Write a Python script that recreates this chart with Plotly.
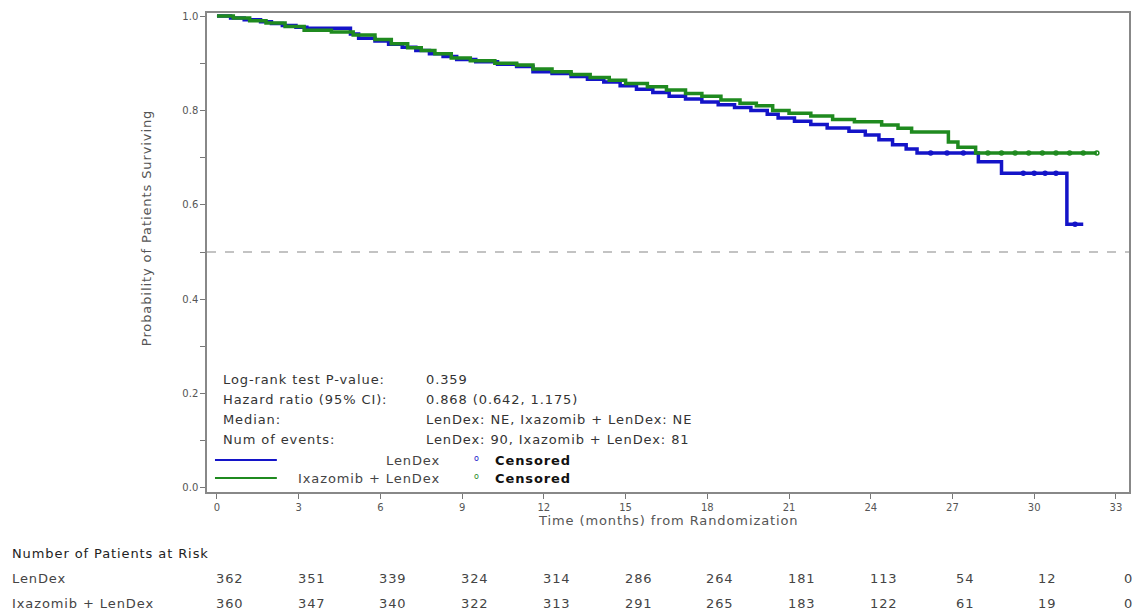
import numpy as np
import plotly.graph_objects as go

# ---------------- data ----------------
lendex_t = [0, 0.5, 1.0, 1.6, 2.0, 2.4, 2.9, 3.3, 4.9, 5.2, 5.8, 6.3, 6.8, 7.3, 7.8, 8.3, 8.8,
            9.5, 10.3, 11.0, 11.6, 12.3, 13.0, 13.6, 14.2, 14.8, 15.4, 16.0, 16.6, 17.2, 17.8,
            18.4, 19.0, 19.6, 20.2, 20.6, 21.2, 21.8, 22.4, 23.2, 23.8, 24.3, 24.8, 25.3, 25.7,
            27.95, 28.8, 31.2, 31.8]
lendex_s = [1.000, 0.996, 0.992, 0.988, 0.984, 0.980, 0.976, 0.974, 0.962, 0.953, 0.947, 0.940,
            0.934, 0.927, 0.920, 0.914, 0.908, 0.903, 0.898, 0.893, 0.882, 0.878, 0.872, 0.866,
            0.860, 0.852, 0.845, 0.838, 0.830, 0.824, 0.818, 0.812, 0.806, 0.800, 0.792, 0.784,
            0.777, 0.770, 0.763, 0.756, 0.748, 0.738, 0.727, 0.718, 0.710, 0.691, 0.667, 0.559,
            0.559]
lendex_cens = [26.2, 26.8, 27.4, 29.6, 30.0, 30.4, 30.8, 31.5]

ixa_t = [0, 0.6, 1.2, 1.8, 2.5, 3.2, 4.2, 5.0, 5.8, 6.4, 7.0, 7.5, 8.0, 8.6, 9.3, 10.2, 11.0,
         11.6, 12.3, 13.0, 13.7, 14.4, 15.0, 15.8, 16.5, 17.2, 17.8, 18.5, 19.2, 19.8, 20.4,
         21.0, 21.8, 22.6, 23.4, 24.4, 25.0, 25.5, 26.85, 27.2, 27.85, 32.3]
ixa_s = [1.000, 0.996, 0.990, 0.985, 0.978, 0.970, 0.966, 0.960, 0.950, 0.941, 0.933, 0.927,
         0.920, 0.911, 0.905, 0.900, 0.896, 0.888, 0.882, 0.876, 0.870, 0.864, 0.857, 0.850,
         0.843, 0.836, 0.830, 0.822, 0.815, 0.810, 0.800, 0.794, 0.788, 0.781, 0.776, 0.769,
         0.762, 0.754, 0.733, 0.722, 0.710, 0.710]
ixa_cens = [28.3, 28.8, 29.3, 29.8, 30.3, 30.8, 31.3, 31.8, 32.3]

risk_times = [0, 3, 6, 9, 12, 15, 18, 21, 24, 27, 30, 33]
risk_lendex = [362, 351, 339, 324, 314, 286, 264, 181, 113, 54, 12, 0]
risk_ixa = [360, 347, 340, 322, 313, 291, 265, 183, 122, 61, 19, 0]

stats_labels = ["Log-rank test P-value:", "Hazard ratio (95% CI):", "Median:", "Num of events:"]
stats_values = ["0.359", "0.868 (0.642, 1.175)", "LenDex: NE, Ixazomib + LenDex: NE",
                "LenDex: 90, Ixazomib + LenDex: 81"]

series_names = ["LenDex", "Ixazomib + LenDex"]
BLUE = "#1414c8"
GREEN = "#1f8a1f"
FONT = "DejaVu Sans"
GRAY = "#555555"
FS = 13


def sp(s):
    return '<span style="letter-spacing:0.9px">' + s + '</span>'


def surv_at(t_list, s_list, times):
    idx = np.searchsorted(np.array(t_list), np.array(times), side="right") - 1
    return list(np.array(s_list)[idx])


fig = go.Figure()

for t, s, c, cens, name in [(lendex_t, lendex_s, BLUE, lendex_cens, series_names[0]),
                             (ixa_t, ixa_s, GREEN, ixa_cens, series_names[1])]:
    fig.add_trace(go.Scatter(x=t, y=s, mode="lines", line=dict(color=c, width=3.5, shape="hv"),
                             name=name, showlegend=False))
    fig.add_trace(go.Scatter(x=cens, y=surv_at(t, s, cens), mode="markers",
                             marker=dict(symbol="circle-open", size=4, color=c, line=dict(width=1.5)),
                             showlegend=False))

# reference line at 0.5
fig.add_shape(type="line", xref="paper", yref="y", x0=0, x1=1, y0=0.5, y1=0.5,
              line=dict(color="#b0b0b0", width=1.5, dash="dash"), layer="below")

yticks = [0, 0.1, 0.2, 0.3, 0.4, 0.5, 0.6, 0.7, 0.8, 0.9, 1.0]
ytext = ["0.0", "", "0.2", "", "0.4", "", "0.6", "", "0.8", "", "1.0"]

fig.update_layout(
    width=1141, height=614,
    margin=dict(l=207, r=10, t=13, b=122),
    paper_bgcolor="white", plot_bgcolor="white",
    font=dict(family=FONT, size=FS, color=GRAY),
    xaxis=dict(range=[-0.366, 33.48], tickvals=risk_times, ticks="outside", ticklen=5,
               tickcolor="#777", showline=True, linecolor="#888", linewidth=1.5, mirror=True,
               showgrid=False, zeroline=False, tickfont=dict(size=10, color=GRAY)),
    yaxis=dict(range=[-0.0085, 1.0064], tickvals=yticks, ticktext=ytext, ticks="outside",
               ticklen=5, tickcolor="#777", showline=True, linecolor="#888", linewidth=1.5,
               mirror=True, showgrid=False, zeroline=False, tickfont=dict(size=10, color=GRAY)),
)

ann = []
# axis titles
ann.append(dict(text=sp("Time (months) from Randomization"), xref="paper", yref="paper", x=0.5,
                y=-0.0605, showarrow=False, font=dict(size=FS, color=GRAY), yanchor="middle"))
ann.append(dict(text=sp("Probability of Patients Surviving"), xref="paper", yref="paper",
                x=(147 - 207) / 924, y=(492 - 228) / 479, showarrow=False, textangle=-90,
                font=dict(size=FS, color=GRAY), xanchor="center", yanchor="middle"))

# stats box
for i, (lab, val) in enumerate(zip(stats_labels, stats_values)):
    py = 379 + 20 * i
    yp = (492 - py) / 479
    ann.append(dict(text=sp(lab), xref="paper", yref="paper", x=(221 - 207) / 924, y=yp,
                    xanchor="left", yanchor="middle", showarrow=False, font=dict(size=FS, color="#333")))
    ann.append(dict(text=sp(val), xref="paper", yref="paper", x=(424 - 207) / 924, y=yp,
                    xanchor="left", yanchor="middle", showarrow=False, font=dict(size=FS, color="#333")))

# legend rows
for name, c, py in [(series_names[0], BLUE, 460), (series_names[1], GREEN, 478)]:
    yp = (492 - py) / 479
    fig.add_shape(type="line", xref="paper", yref="paper", x0=(215 - 207) / 924,
                  x1=(277 - 207) / 924, y0=yp, y1=yp, line=dict(color=c, width=2))
    ann.append(dict(text=sp(name), xref="paper", yref="paper", x=(443 - 207) / 924, y=yp,
                    xanchor="right", yanchor="middle", showarrow=False, font=dict(size=FS, color="#444")))
    ann.append(dict(text="o", xref="paper", yref="paper", x=(477 - 207) / 924, y=yp + 0.004,
                    xanchor="center", yanchor="middle", showarrow=False, font=dict(size=8, color=c)))
    ann.append(dict(text="<b>" + sp("Censored") + "</b>", xref="paper", yref="paper",
                    x=(494 - 207) / 924, y=yp, xanchor="left", yanchor="middle", showarrow=False,
                    font=dict(size=FS, color="#111")))

# risk table
ann.append(dict(text=sp("Number of Patients at Risk"), xref="paper", yref="paper",
                x=-(207 - 10) / 924, y=(492 - 553) / 479, xanchor="left", yanchor="middle",
                showarrow=False, font=dict(size=FS, color="#222")))
for name, vals, py in [(series_names[0], risk_lendex, 578), (series_names[1], risk_ixa, 603)]:
    yp = (492 - py) / 479
    ann.append(dict(text=sp(name), xref="paper", yref="paper", x=-(207 - 10) / 924, y=yp,
                    xanchor="left", yanchor="middle", showarrow=False, font=dict(size=FS, color="#444")))
    for t, v in zip(risk_times, vals):
        ann.append(dict(text=sp(str(v)), xref="x", yref="paper", x=t, y=yp, xshift=13,
                        xanchor="center", yanchor="middle", showarrow=False,
                        font=dict(size=FS, color="#444")))

fig.update_layout(annotations=ann)
fig.write_html("out.html")
